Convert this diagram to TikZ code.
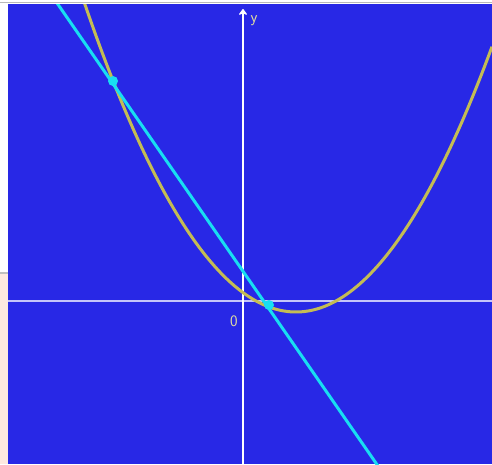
\documentclass[tikz,border=0pt]{standalone}
\usetikzlibrary{arrows.meta}
\definecolor{bgblue}{RGB}{40,40,230}
\definecolor{curveyel}{RGB}{196,188,84}
\definecolor{lncyan}{RGB}{24,222,242}
\definecolor{axwhite}{RGB}{236,236,255}
\definecolor{lblyel}{RGB}{226,222,160}
\definecolor{pinkbg}{RGB}{253,233,224}
\tikzset{
  axisline/.style={draw=axwhite, line width=2.8pt},
  lbl/.style={text=lblyel, font=\sffamily\fontsize{16}{18}\selectfont, inner sep=0pt},
  dotpt/.style={circle, fill=lncyan, minimum size=10pt, inner sep=0pt},
}
\begin{document}
\begin{tikzpicture}[x=1pt,y=-1pt]
\useasboundingbox (0,0) rectangle (492,464);
\fill[white] (0,0) rectangle (492,464);
\fill[pinkbg] (0,274) rectangle (8,464);
\draw[gray!50, line width=1.2pt] (0,273) -- (8,273);
\draw[gray!55, line width=1.5pt] (0,2.5) -- (492,2.5);
\fill[bgblue] (8,4) rectangle (492,464);
\begin{scope}
\clip (8,4) rectangle (492,464);
% axes
\coordinate (xl) at (8,301);
\coordinate (xr) at (492,301);
\coordinate (yb) at (243,464);
\coordinate (yt) at (243,9);
\draw[axisline, draw=axwhite!80!bgblue] (xl) -- (xr);
\draw[axisline, draw=white, -{Stealth[length=7pt,width=10pt,round]}] (yb) -- (yt);
\node[lbl] (ylab) at (254,21) {y};
\node[lbl] (zero) at (234,321) {0};
% parabola
\draw[curveyel, line width=3pt] plot[domain=78:492, samples=120] (\x, {312-(0.0831*(\x-296))^2});
% line
\coordinate (la) at (57,3);
\coordinate (lb) at (378,466);
\draw[lncyan, line width=3pt] (la) -- (lb);
\node[dotpt] (p1) at (113,81) {};
\node[dotpt] (p2) at (269,305) {};
\end{scope}
\end{tikzpicture}
\end{document}
